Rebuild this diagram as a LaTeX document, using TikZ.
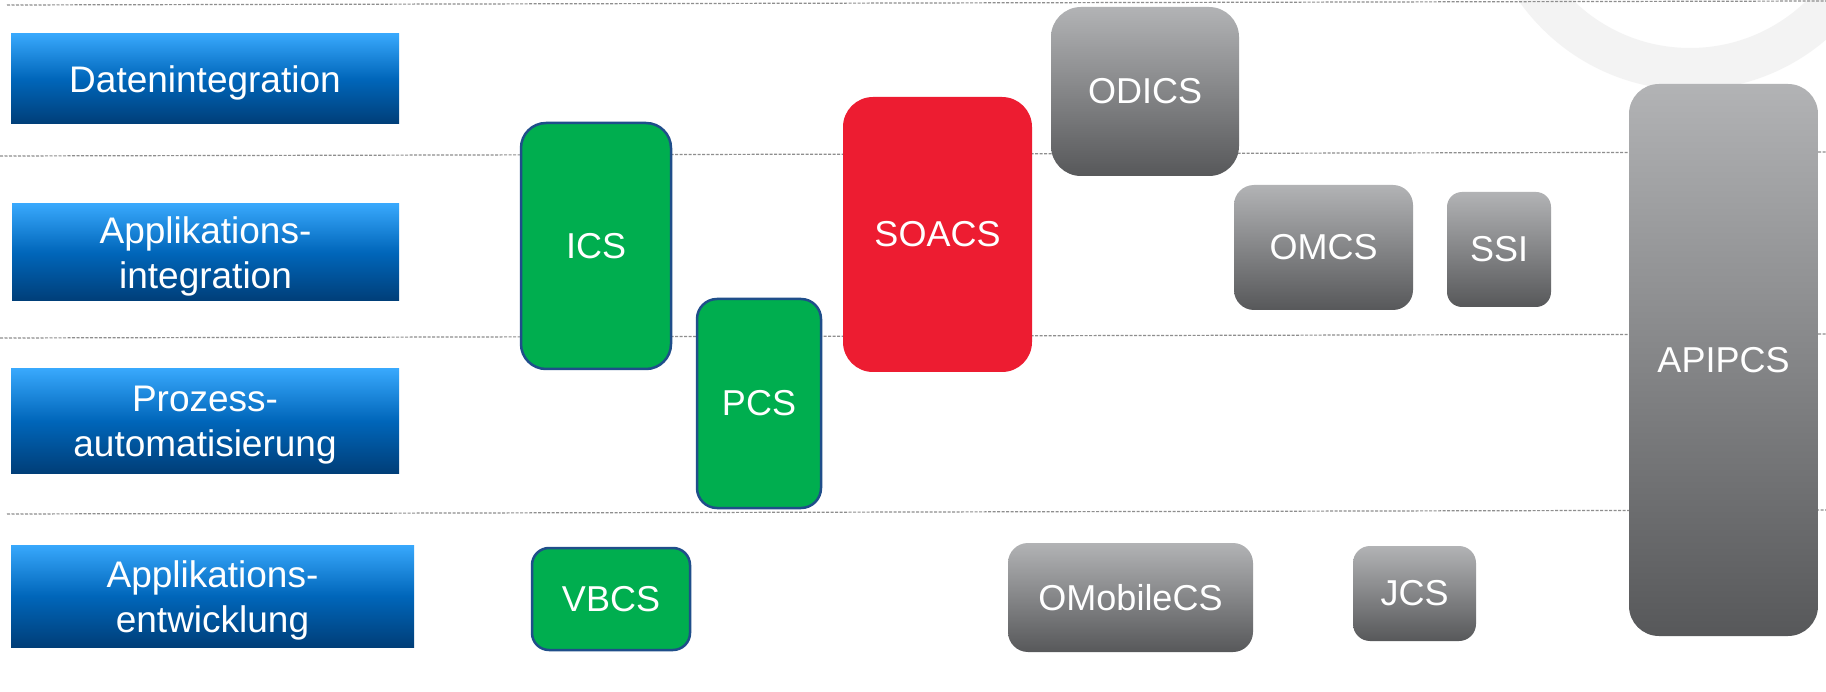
\documentclass[tikz,border=0pt]{standalone}
\usepackage{fontspec}
\setmainfont{Liberation Sans}
\definecolor{laneTop}{HTML}{38A8FC}
\definecolor{laneMid}{HTML}{0066BA}
\definecolor{laneBot}{HTML}{003E78}
\definecolor{csGreen}{HTML}{00AE4F}
\definecolor{csBorder}{HTML}{1F4E8A}
\definecolor{csRed}{HTML}{ED1C31}
\definecolor{grayTop}{HTML}{B2B3B5}
\definecolor{grayBot}{HTML}{57585A}
\definecolor{ringGray}{HTML}{F3F3F3}
\definecolor{dashGray}{HTML}{8E8E8E}
\begin{document}
\begin{tikzpicture}[x=1pt,y=-1pt,
  lane/.style={draw=none, shading=axis, top color=laneTop, bottom color=laneBot, middle color=laneMid, inner sep=0pt},
  lanetext/.style={text=white, font=\fontsize{37}{45}\selectfont, align=center, inner sep=0pt, yshift=-4pt},
  cbox/.style={text=white, font=\fontsize{36}{43}\selectfont, align=center, inner sep=0pt},
  greenbox/.style={cbox, fill=csGreen, draw=csBorder, line width=2.5pt},
  redbox/.style={cbox, fill=csRed, draw=none},
  graybox/.style={cbox, draw=none, shading=axis, top color=grayTop, bottom color=grayBot},
  sepline/.style={draw=dashGray, line width=1.2pt, dash pattern=on 3pt off 1.5pt}]
\useasboundingbox (0,0) rectangle (1826,692);
\fill[white] (0,0) rectangle (1826,692);
% background ring
\begin{scope}
  \clip (0,0) rectangle (1826,692);
  \fill[ringGray, even odd rule] (1690,-119) circle[radius=209] (1690,-119) circle[radius=167];
\end{scope}
% separator lines
\coordinate (l1a) at (7,5);   \coordinate (l1b) at (1826,1);
\coordinate (l2a) at (0,156); \coordinate (l2b) at (1826,152);
\coordinate (l3a) at (0,338); \coordinate (l3b) at (1826,334);
\coordinate (l4a) at (7,514); \coordinate (l4b) at (1826,510);
\draw[sepline] (l1a) -- (l1b);
\draw[sepline] (l2a) -- (l2b);
\draw[sepline] (l3a) -- (l3b);
\draw[sepline] (l4a) -- (l4b);
% lane labels
\node[lane, minimum width=388pt, minimum height=90pt,
  label={[lanetext]center:Datenintegration}] (daten) at (205,79) {};
\node[lane, minimum width=387pt, minimum height=97pt,
  label={[lanetext]center:{Applikations-\\integration}}] (appint) at (205.5,252.5) {};
\node[lane, minimum width=388pt, minimum height=104pt,
  label={[lanetext]center:{Prozess-\\automatisierung}}] (proz) at (205,421) {};
\node[lane, minimum width=403pt, minimum height=102pt,
  label={[lanetext]center:{Applikations-\\entwicklung}}] (appent) at (212.5,596) {};
% green boxes
\node[greenbox, rounded corners=25pt, minimum width=150pt, minimum height=246pt] (ics) at (596,246) {ICS};
\node[greenbox, rounded corners=20pt, minimum width=124pt, minimum height=209pt] (pcs) at (759,403.5) {PCS};
\node[greenbox, rounded corners=17pt, minimum width=158pt, minimum height=102pt] (vbcs) at (611,599) {VBCS};
% red box
\node[redbox, rounded corners=30pt, minimum width=189pt, minimum height=275pt] (soacs) at (937.5,234.5) {SOACS};
% gray boxes
\node[graybox, rounded corners=30pt, minimum width=188pt, minimum height=169pt] (odics) at (1145,91.5) {ODICS};
\node[graybox, rounded corners=20pt, minimum width=179pt, minimum height=125pt] (omcs) at (1323.5,247.5) {OMCS};
\node[graybox, rounded corners=15pt, minimum width=104pt, minimum height=115pt] (ssi) at (1499,249.5) {SSI};
\node[graybox, rounded corners=20pt, minimum width=245pt, minimum height=109pt] (omobile) at (1130.5,597.5) {OMobileCS};
\node[graybox, rounded corners=17pt, minimum width=123pt, minimum height=95pt] (jcs) at (1414.5,593.5) {JCS};
\node[graybox, rounded corners=30pt, minimum width=189pt, minimum height=552pt] (apipcs) at (1723.5,360) {APIPCS};
\end{tikzpicture}
\end{document}
